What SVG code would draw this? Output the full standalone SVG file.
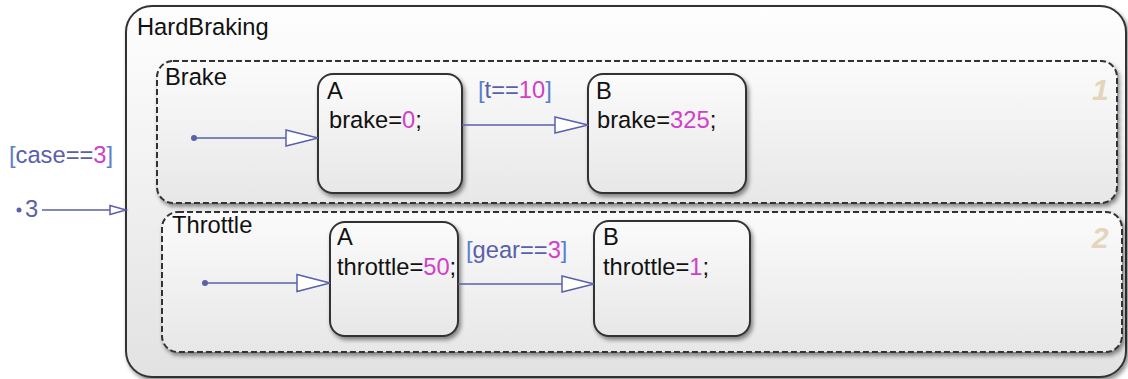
<svg xmlns="http://www.w3.org/2000/svg" width="1128" height="379" viewBox="0 0 1128 379">
<style>
text{font-family:"Liberation Sans",Arial,sans-serif;font-size:23.7px;fill:#111}
.st{stroke:#333;stroke-width:2;filter:url(#sh)}
.par{stroke:#333;stroke-width:2;stroke-dasharray:6 3;filter:url(#sh)}
.tr{stroke:#5a60aa;stroke-width:1.5;fill:none}
.ah{stroke:#5a60aa;stroke-width:1.5;fill:#fff}
.dot{fill:#5a60aa}
.br{fill:#5b7fd0}
.lb{fill:#5a60aa}
.num{fill:#d040c8}
.ord{font-weight:bold;font-style:italic;font-size:30px;fill:#e4d5bd}
</style>
<defs>
<linearGradient id="g1" x1="0" y1="0" x2="0" y2="1"><stop offset="0" stop-color="#fefefe"/><stop offset="1" stop-color="#e2e2e2"/></linearGradient>
<linearGradient id="g2" x1="0" y1="0" x2="0" y2="1"><stop offset="0" stop-color="#fbfbfb"/><stop offset="1" stop-color="#e7e7e7"/></linearGradient>
<filter id="sh" x="-5%" y="-5%" width="110%" height="120%"><feDropShadow dx="2" dy="3" stdDeviation="2" flood-color="#000" flood-opacity="0.45"/></filter>
</defs>
<g id="HardBraking">
<rect x="126" y="6" width="1000" height="371" rx="26" fill="url(#g1)" class="st"/>
<text x="137" y="35">HardBraking</text>
</g>
<g id="Brake">
<rect x="157" y="61" width="960" height="142" rx="16" fill="url(#g2)" class="par"/>
<text x="165" y="85">Brake</text>
<text x="1092" y="100" class="ord">1</text>
</g>
<g id="Throttle">
<rect x="162" y="212" width="960" height="140" rx="16" fill="url(#g2)" class="par"/>
<text x="172" y="233">Throttle</text>
<text x="1092" y="248" class="ord">2</text>
</g>
<g id="Brake_A">
<rect x="318" y="74" width="144" height="119" rx="15" fill="url(#g2)" class="st"/>
<text x="327" y="99">A</text>
<text x="329" y="128">brake=<tspan class="num">0</tspan>;</text>
</g>
<g id="Brake_B">
<rect x="588" y="74" width="158" height="119" rx="15" fill="url(#g2)" class="st"/>
<text x="596" y="99">B</text>
<text x="597" y="128">brake=<tspan class="num">325</tspan>;</text>
</g>
<g id="Throttle_A">
<rect x="330" y="222" width="128" height="114" rx="15" fill="url(#g2)" class="st"/>
<text x="337" y="245">A</text>
<text x="337" y="275">throttle=<tspan class="num">50</tspan>;</text>
</g>
<g id="Throttle_B">
<rect x="594" y="221" width="156" height="115" rx="15" fill="url(#g2)" class="st"/>
<text x="603" y="245">B</text>
<text x="603" y="275">throttle=<tspan class="num">1</tspan>;</text>
</g>
<g id="connectors">
<circle cx="19" cy="210" r="2.5" class="dot"/>
<text x="25" y="217" class="lb">3</text>
<line x1="42" y1="210" x2="110" y2="210" class="tr"/>
<polygon points="110,205.5 126,210 110,214.5" class="ah"/>
<text x="9" y="163"><tspan class="br">[</tspan><tspan class="lb">case==</tspan><tspan class="num">3</tspan><tspan class="br">]</tspan></text>

<circle cx="194" cy="138" r="3" class="dot"/>
<line x1="194" y1="138" x2="286" y2="138" class="tr"/>
<polygon points="286,130 318,138 286,146" class="ah"/>

<line x1="462" y1="125" x2="555" y2="125" class="tr"/>
<polygon points="555,117 588,125 555,133" class="ah"/>
<text x="478" y="98"><tspan class="br">[</tspan><tspan class="lb">t==</tspan><tspan class="num">10</tspan><tspan class="br">]</tspan></text>

<circle cx="205" cy="283" r="3" class="dot"/>
<line x1="205" y1="283" x2="297" y2="283" class="tr"/>
<polygon points="297,274.5 330,283 297,291.5" class="ah"/>

<line x1="458" y1="284" x2="562" y2="284" class="tr"/>
<polygon points="562,276 594,284 562,292" class="ah"/>
<text x="466" y="258"><tspan class="br">[</tspan><tspan class="lb">gear==</tspan><tspan class="num">3</tspan><tspan class="br">]</tspan></text>
</g>
</svg>
